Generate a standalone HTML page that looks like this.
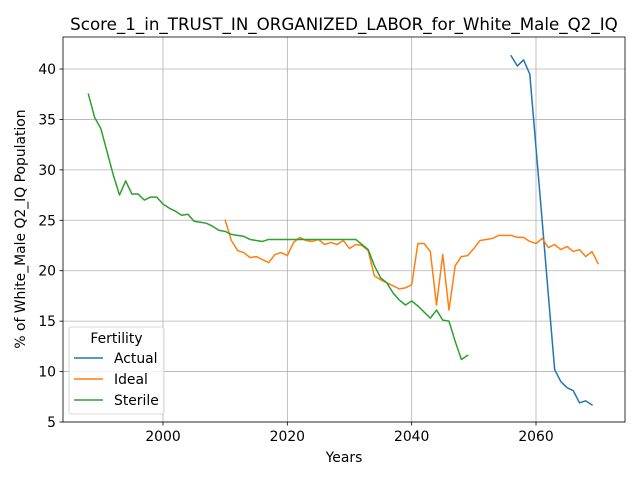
<!DOCTYPE html>
<html><head><meta charset="utf-8"><style>body{margin:0;background:#fff}svg{display:block;font-family:"DejaVu Sans","Liberation Sans",sans-serif}</style></head>
<body>
<svg id="chart" width="640" height="480" xmlns="http://www.w3.org/2000/svg"></svg>
<script>
const xTicks=[2000,2020,2040,2060];
const yTicks=[5,10,15,20,25,30,35,40];
const sterileStart=1988;
const sterileValues=[37.5,35.2,34.1,31.8,29.5,27.5,28.9,27.6,27.6,27.0,27.3,27.3,26.6,26.2,25.9,25.5,25.6,24.9,24.8,24.7,24.4,24.0,23.9,23.6,23.5,23.4,23.1,23.0,22.9,23.1,23.1,23.1,23.1,23.1,23.1,23.1,23.1,23.1,23.1,23.1,23.1,23.1,23.1,23.1,22.6,22.1,20.5,19.3,18.8,17.8,17.1,16.6,17.0,16.5,15.9,15.3,16.1,15.1,15.0,13.0,11.2,11.6];
const idealStart=2010;
const idealValues=[25.0,23.0,22.0,21.8,21.3,21.4,21.1,20.8,21.6,21.8,21.5,22.8,23.3,23.0,22.9,23.1,22.6,22.8,22.6,23.0,22.2,22.6,22.5,22.0,19.5,19.1,18.8,18.5,18.2,18.3,18.6,22.7,22.7,21.9,16.6,21.6,16.1,20.5,21.4,21.5,22.2,23.0,23.1,23.2,23.5,23.5,23.5,23.3,23.3,22.9,22.7,23.2,22.3,22.6,22.1,22.4,21.9,22.1,21.4,21.9,20.7];
const actualStart=2056;
const actualValues=[41.3,40.3,40.9,39.5,32.2,24.9,17.5,10.2,9.0,8.4,8.1,6.9,7.1,6.7];

const L=63,R=625,T=37,B=422;
const X=v=>163+(v-2000)*(536-163)/60;
const Y=v=>422-(v-5)*(422-69)/35;
const svg=document.getElementById('chart');
const NS='http://www.w3.org/2000/svg';
function mk(tag,attrs,parent){const e=document.createElementNS(NS,tag);for(const k in attrs)e.setAttribute(k,attrs[k]);(parent||svg).appendChild(e);return e;}

const grid=mk('g',{});


xTicks.forEach(t=>{const l=mk('line',{x1:X(t),x2:X(t),y1:T,y2:B,stroke:'#b0b0b0','stroke-width':0.8},grid);

});
yTicks.forEach(t=>{const l=mk('line',{x1:L,x2:R,y1:Y(t),y2:Y(t),stroke:'#b0b0b0','stroke-width':0.8},grid);

});

function series(start,vals,color,name){
  const d=vals.map((v,i)=>(i?'L':'M')+X(start+i).toFixed(2)+','+Y(v).toFixed(2)).join('');
  const p=mk('path',{d:d,fill:'none',stroke:color,'stroke-width':1.5,'stroke-linejoin':'round','stroke-linecap':'square'});
  
  
}
series(actualStart,actualValues,'#1f77b4','actual-line');
series(idealStart,idealValues,'#ff7f0e','ideal-line');
series(sterileStart,sterileValues,'#2ca02c','sterile-line');

const frame=mk('rect',{x:L,y:T,width:R-L,height:B-T,fill:'none',stroke:'#000','stroke-width':0.8});



xTicks.forEach(t=>{mk('line',{x1:X(t),x2:X(t),y1:B,y2:B+3.5,stroke:'#000','stroke-width':0.8});
const tx=mk('text',{x:X(t),y:B+19,'font-size':13.9,'text-anchor':'middle'});tx.textContent=t;

});
yTicks.forEach(t=>{mk('line',{x1:L-3.5,x2:L,y1:Y(t),y2:Y(t),stroke:'#000','stroke-width':0.8});
const tx=mk('text',{x:L-7,y:Y(t)+5,'font-size':13.9,'text-anchor':'end'});tx.textContent=t;

});

const title=mk('text',{x:344,y:30,'font-size':16.7,'text-anchor':'middle'});title.textContent='Score_1_in_TRUST_IN_ORGANIZED_LABOR_for_White_Male_Q2_IQ';


const xt=mk('text',{x:344,y:462,'font-size':13.9,'text-anchor':'middle'});xt.textContent='Years';


const yt=mk('text',{x:0,y:0,'font-size':13.9,'text-anchor':'middle',transform:'translate(25,229) rotate(-90)'});yt.textContent='% of White_Male Q2_IQ Population';



const lg=mk('g',{});


mk('rect',{x:69,y:327,width:95,height:87,rx:2,fill:'#fff','fill-opacity':0.8,stroke:'#ccc','stroke-width':0.8},lg);
const lt=mk('text',{x:116.5,y:343,'font-size':13.9,'text-anchor':'middle'},lg);lt.textContent='Fertility';


[['Actual','#1f77b4',358],['Ideal','#ff7f0e',379],['Sterile','#2ca02c',400]].forEach(([n,c,y])=>{
  const g=mk('g',{},lg);
  
  
  mk('line',{x1:74,x2:103,y1:y,y2:y,stroke:c,'stroke-width':1.5},g);
  const t=mk('text',{x:114,y:y+5,'font-size':13.9},g);t.textContent=n;
});
</script>
</body></html>
